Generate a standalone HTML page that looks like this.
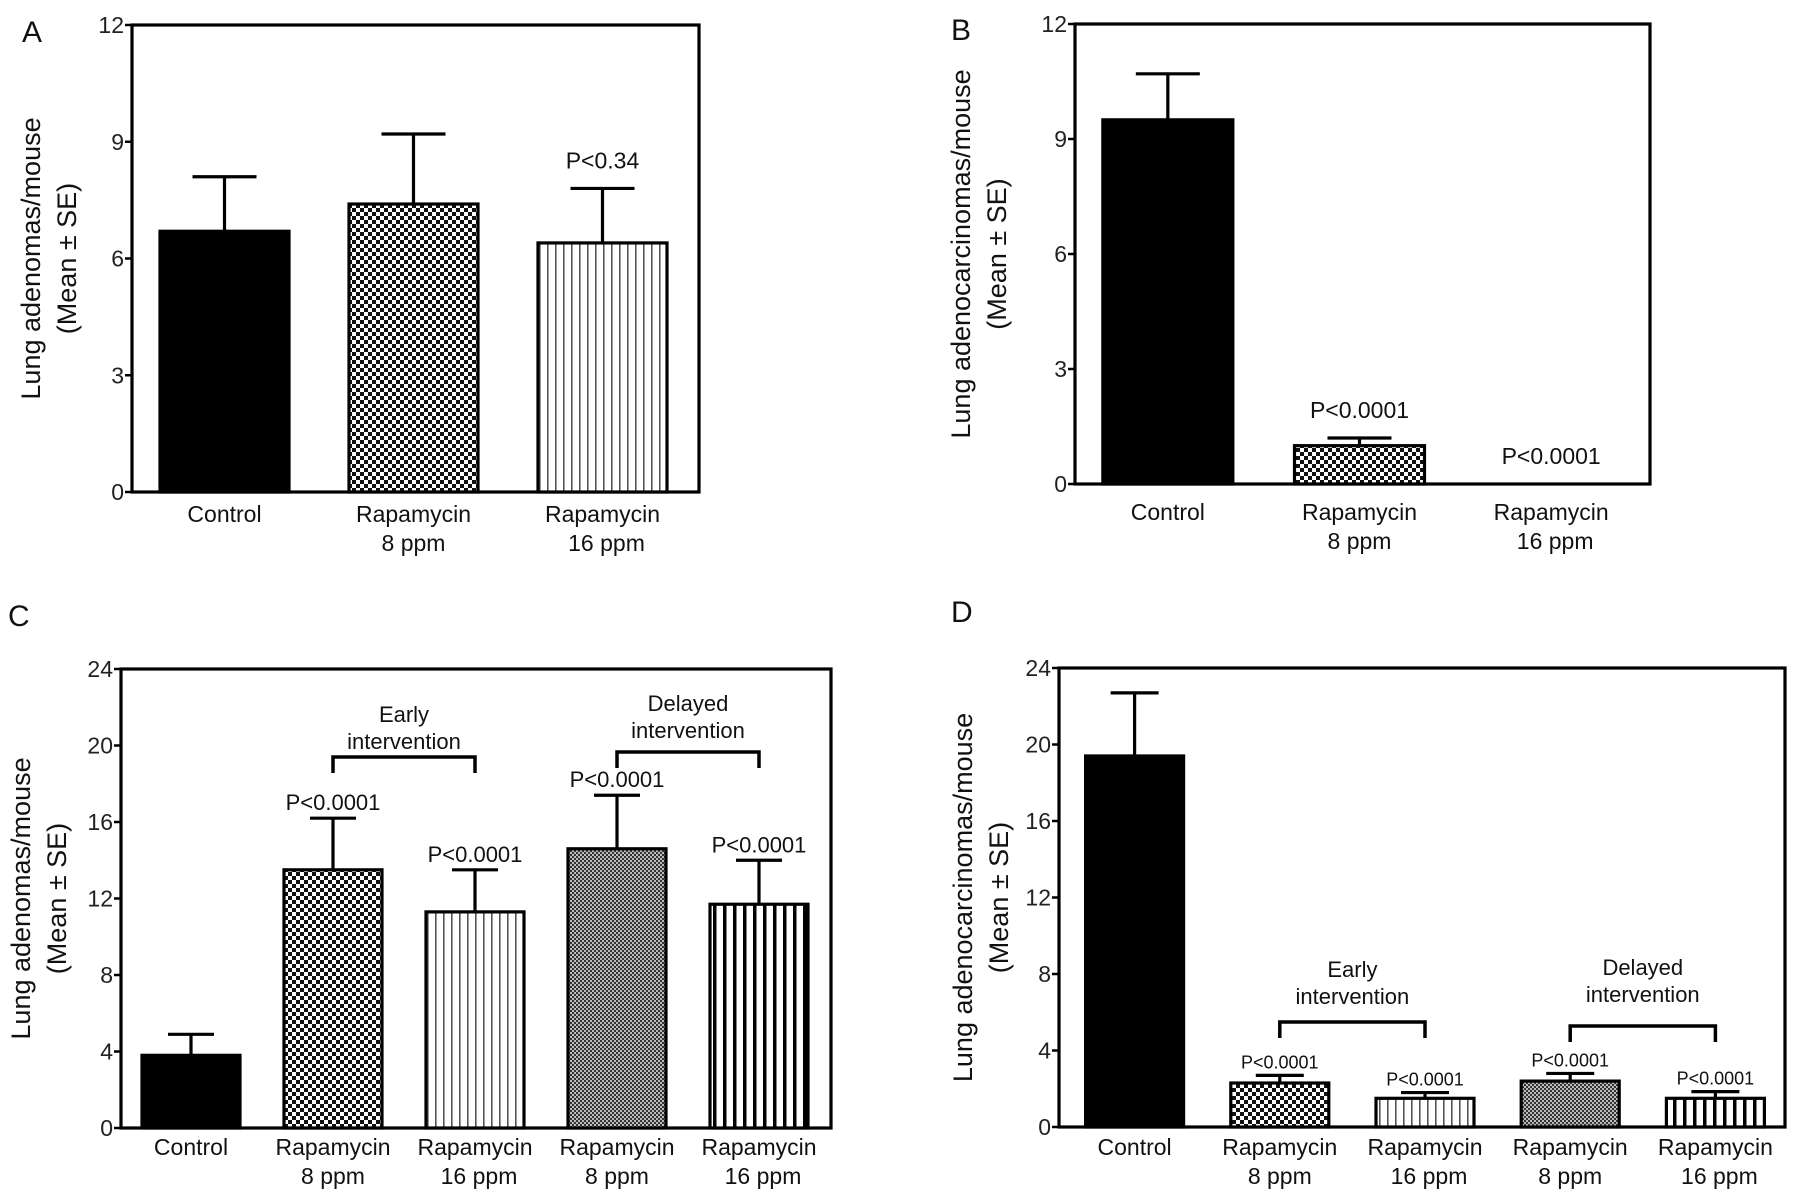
<!DOCTYPE html>
<html><head><meta charset="utf-8"><style>
html,body{margin:0;padding:0;background:#fff;}
svg{display:block;font-family:"Liberation Sans",Arial,sans-serif;}
</style></head><body>
<svg id="fig" width="1795" height="1200" viewBox="0 0 1795 1200" xmlns="http://www.w3.org/2000/svg">
<defs>
<pattern id="checker" width="8" height="8" patternUnits="userSpaceOnUse"><rect width="8" height="8" fill="#fff"/><rect width="4" height="4" fill="#111"/><rect x="4" y="4" width="4" height="4" fill="#111"/></pattern>
<pattern id="fine" width="4" height="4" patternUnits="userSpaceOnUse"><rect width="4" height="4" fill="#bbb"/><rect width="2" height="2" fill="#333"/><rect x="2" y="2" width="2" height="2" fill="#333"/></pattern>
<pattern id="vthin" width="8" height="8" patternUnits="userSpaceOnUse"><rect width="8" height="8" fill="#fff"/><rect x="3" width="1.6" height="8" fill="#555"/></pattern>
<pattern id="vthick" width="10" height="10" patternUnits="userSpaceOnUse"><rect width="10" height="10" fill="#fff"/><rect x="3" width="3.5" height="10" fill="#000"/></pattern>
</defs>
</svg>
<script>
// Panel A
const aCategories = [["Control"],["Rapamycin","8 ppm"],["Rapamycin","16 ppm"]];
const aMeans = [6.7, 7.4, 6.4];
const aErrors = [1.4, 1.8, 1.4];
const aPLabels = ["", "", "P<0.34"];
const aTicks = [0,3,6,9,12];
// Panel B
const bCategories = [["Control"],["Rapamycin","8 ppm"],["Rapamycin","16 ppm"]];
const bMeans = [9.5, 1.0, 0];
const bErrors = [1.2, 0.2, 0];
const bPLabels = ["", "P<0.0001", "P<0.0001"];
const bTicks = [0,3,6,9,12];
// Panel C
const cCategories = [["Control"],["Rapamycin","8 ppm"],["Rapamycin","16 ppm"],["Rapamycin","8 ppm"],["Rapamycin","16 ppm"]];
const cMeans = [3.8, 13.5, 11.3, 14.6, 11.7];
const cErrors = [1.1, 2.7, 2.2, 2.8, 2.3];
const cPLabels = ["", "P<0.0001", "P<0.0001", "P<0.0001", "P<0.0001"];
const cTicks = [0,4,8,12,16,20,24];
// Panel D
const dCategories = [["Control"],["Rapamycin","8 ppm"],["Rapamycin","16 ppm"],["Rapamycin","8 ppm"],["Rapamycin","16 ppm"]];
const dMeans = [19.4, 2.3, 1.5, 2.4, 1.5];
const dErrors = [3.3, 0.4, 0.3, 0.4, 0.35];
const dPLabels = ["", "P<0.0001", "P<0.0001", "P<0.0001", "P<0.0001"];
const dTicks = [0,4,8,12,16,20,24];

const NS = "http://www.w3.org/2000/svg";
const svg = document.getElementById('fig');
function mk(tag, attrs, parent, text){
  const e = document.createElementNS(NS, tag);
  for (const k in attrs) e.setAttribute(k, attrs[k]);
  if (text !== undefined) e.textContent = text;
  (parent||svg).appendChild(e);
  return e;
}

function panel(cfg){
  const g = mk('g', {});
  
  
  const {L,R,T,B,max} = cfg;
  const n = cfg.cats.length;
  const slot = (R-L)/n;
  const xC = i => L + slot*(i+0.5) + cfg.shift;
  const yS = v => B - v/max*(B-T);
  const fr = mk('rect', {x:L,y:T,width:R-L,height:B-T,fill:'none',stroke:'#000','stroke-width':3.2}, g);
  
  
  cfg.ticks.forEach(t=>{
    const y = yS(t);
    const tk = mk('line',{x1:L-7,x2:L,y1:y,y2:y,stroke:'#000','stroke-width':2.5},g);
    
    
    const tl = mk('text',{x:L-8,y:y+8,'text-anchor':'end','font-size':23,fill:'#222'},g,String(t));
    
    
  });
  cfg.means.forEach((m,i)=>{
    const cx = xC(i), w = cfg.barW;
    const top = yS(m);
    if (m > 0){
      const r = mk('rect',{x:cx-w/2,y:top,width:w,height:B-top,fill:cfg.fills[i],stroke:'#000','stroke-width':3.2},g);
      
      
    }
    const e = cfg.errs[i];
    if (e > 0){
      const ye = yS(m+e);
      const el = mk('path',{d:`M${cx} ${top} V${ye} M${cx-cfg.capW/2} ${ye} H${cx+cfg.capW/2}`,stroke:'#000','stroke-width':3.2,fill:'none'},g);
      
      
    }
    if (cfg.pl[i]){
      const py = (m+e > 0 ? yS(m+e) : B) - cfg.pGap;
      const p = mk('text',{x:cx,y:py,'text-anchor':'middle','font-size':cfg.pFont,fill:'#111'},g,cfg.pl[i]);
      
      
    }
    cfg.cats[i].forEach((line,j)=>{
      const t = mk('text',{x:cx + (j===1 && line.startsWith('16') ? 4 : 0),y:cfg.labY + j*29,'text-anchor':'middle','font-size':23,fill:'#111'},g,line);
      
      
    });
  });
  const tx = cfg.titleX, ty = (T+B)/2 + cfg.titleDy;
  const t1 = mk('text',{x:0,y:0,'text-anchor':'middle','font-size':27,fill:'#111',transform:`translate(${tx},${ty}) rotate(-90)`},g,cfg.title);
  
  
  const t2 = mk('text',{x:0,y:0,'text-anchor':'middle','font-size':27,fill:'#111',transform:`translate(${tx+36},${ty}) rotate(-90)`},g,'(Mean ± SE)');
  
  
  const lt = mk('text',{x:cfg.letterX,y:cfg.letterY,'font-size':30,fill:'#111'},g,cfg.letter);
  
  
  (cfg.brackets||[]).forEach(br=>{
    const x1 = xC(br.i), x2 = xC(br.i+1);
    const bp = mk('path',{d:`M${x1} ${br.y+16} V${br.y} H${x2} V${br.y+16}`,stroke:'#000','stroke-width':3.5,fill:'none'},g);
    
    
    br.lines.forEach((ln,k)=>{
      const bt = mk('text',{x:(x1+x2)/2,y:br.ty + k*27,'text-anchor':'middle','font-size':22,fill:'#111'},g,ln);
      
      
    });
  });
}

panel({name:'panel-a',letter:'A',letterX:22,letterY:42,L:132,R:699,T:25,B:492,max:12,shift:-2,barW:129,capW:64,
  cats:aCategories,means:aMeans,errs:aErrors,pl:aPLabels,ticks:aTicks,fills:['#000','url(#checker)','url(#vthin)'],
  pGap:20,pFont:23,labY:522,title:'Lung adenomas/mouse',titleX:40,titleDy:0});
panel({name:'panel-b',letter:'B',letterX:951,letterY:40,L:1075,R:1650,T:24,B:484,max:12,shift:-3,barW:130,capW:64,
  cats:bCategories,means:bMeans,errs:bErrors,pl:bPLabels,ticks:bTicks,fills:['#000','url(#checker)','url(#vthin)'],
  pGap:20,pFont:23,labY:520,title:'Lung adenocarcinomas/mouse',titleX:970,titleDy:0});
panel({name:'panel-c',letter:'C',letterX:8,letterY:626,L:121,R:831,T:669,B:1128,max:24,shift:-1,barW:98,capW:46,
  cats:cCategories,means:cMeans,errs:cErrors,pl:cPLabels,ticks:cTicks,fills:['#000','url(#checker)','url(#vthin)','url(#fine)','url(#vthick)'],
  pGap:8,pFont:22,labY:1155,title:'Lung adenomas/mouse',titleX:30,titleDy:0,
  brackets:[{i:1,y:757,ty:722,lines:['Early','intervention']},{i:3,y:752,ty:711,lines:['Delayed','intervention']}]});
panel({name:'panel-d',letter:'D',letterX:951,letterY:622,L:1059,R:1785,T:668,B:1127,max:24,shift:3,barW:98,capW:48,
  cats:dCategories,means:dMeans,errs:dErrors,pl:dPLabels,ticks:dTicks,fills:['#000','url(#checker)','url(#vthin)','url(#fine)','url(#vthick)'],
  pGap:7,pFont:18,labY:1155,title:'Lung adenocarcinomas/mouse',titleX:972,titleDy:0,
  brackets:[{i:1,y:1022,ty:977,lines:['Early','intervention']},{i:3,y:1026,ty:975,lines:['Delayed','intervention']}]});
</script>
</body></html>
